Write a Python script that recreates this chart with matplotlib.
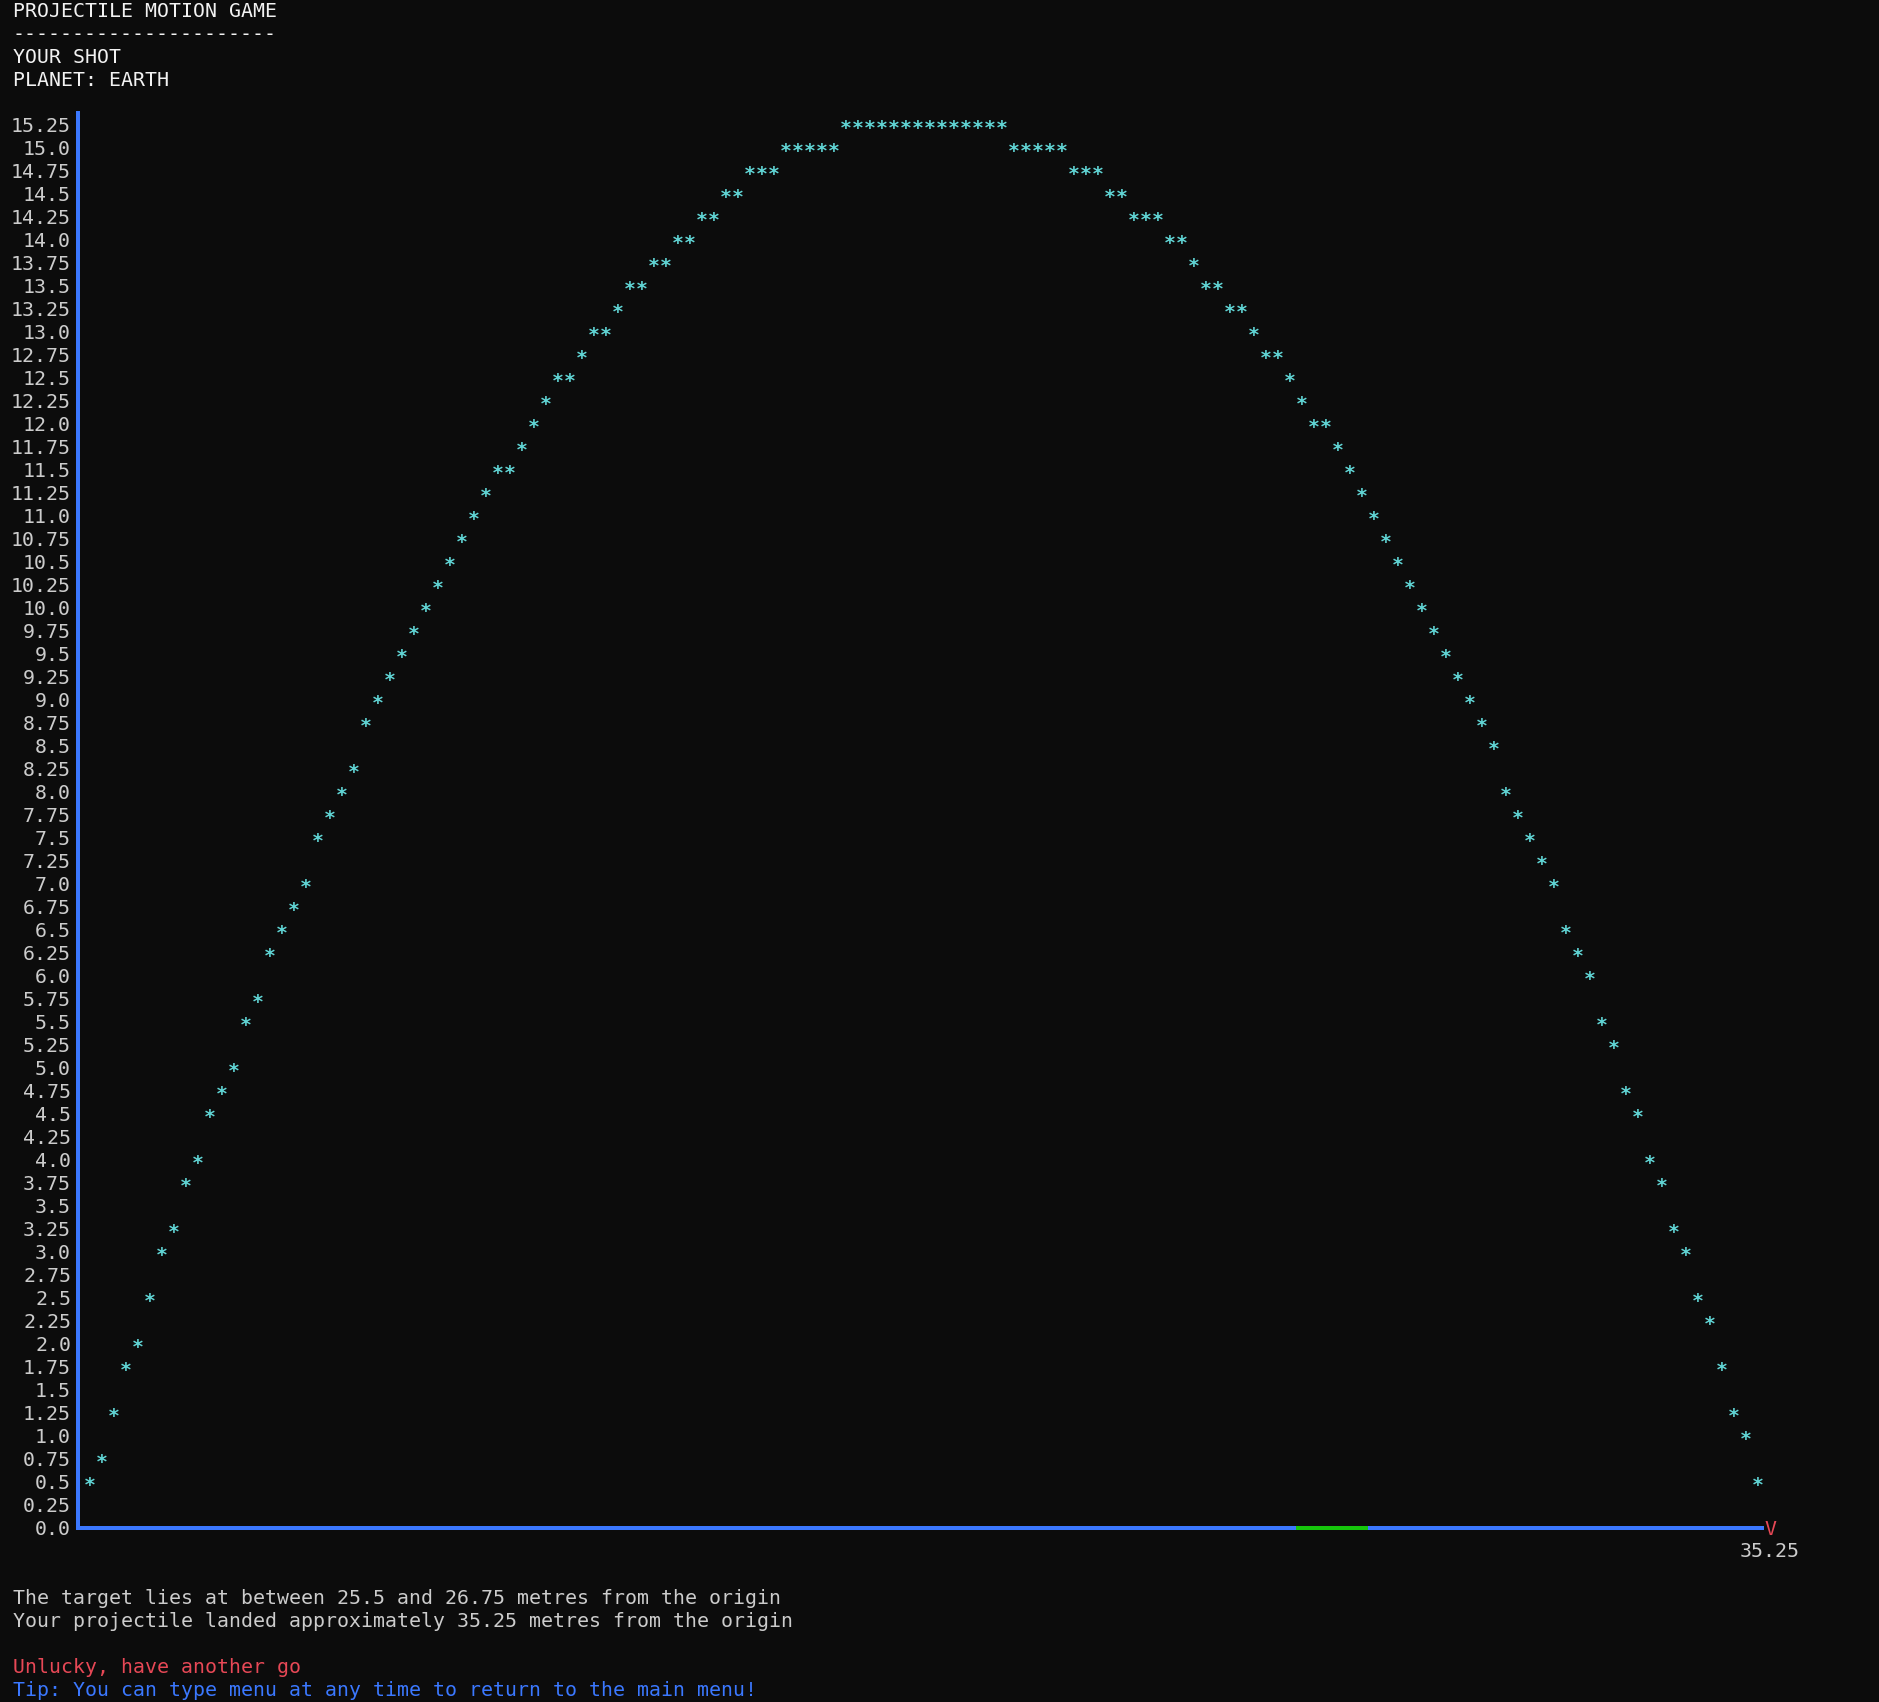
import matplotlib
matplotlib.use('Agg')
import matplotlib.pyplot as plt
from matplotlib.transforms import offset_copy

# Height of the projectile (m) at each 0.25 m column of the terminal plot
heights = [
    0.5, 0.75, 1.25, 1.75, 2.0, 2.5, 3.0, 3.25, 3.75, 4.0,
    4.5, 4.75, 5.0, 5.5, 5.75, 6.25, 6.5, 6.75, 7.0, 7.5,
    7.75, 8.0, 8.25, 8.75, 9.0, 9.25, 9.5, 9.75, 10.0, 10.25,
    10.5, 10.75, 11.0, 11.25, 11.5, 11.5, 11.75, 12.0, 12.25, 12.5,
    12.5, 12.75, 13.0, 13.0, 13.25, 13.5, 13.5, 13.75, 13.75, 14.0,
    14.0, 14.25, 14.25, 14.5, 14.5, 14.75, 14.75, 14.75, 15.0, 15.0,
    15.0, 15.0, 15.0, 15.25, 15.25, 15.25, 15.25, 15.25, 15.25, 15.25,
    15.25, 15.25, 15.25, 15.25, 15.25, 15.25, 15.25, 15.0, 15.0, 15.0,
    15.0, 15.0, 14.75, 14.75, 14.75, 14.5, 14.5, 14.25, 14.25, 14.25,
    14.0, 14.0, 13.75, 13.5, 13.5, 13.25, 13.25, 13.0, 12.75, 12.75,
    12.5, 12.25, 12.0, 12.0, 11.75, 11.5, 11.25, 11.0, 10.75, 10.5,
    10.25, 10.0, 9.75, 9.5, 9.25, 9.0, 8.75, 8.5, 8.0, 7.75,
    7.5, 7.25, 7.0, 6.5, 6.25, 6.0, 5.5, 5.25, 4.75, 4.5,
    4.0, 3.75, 3.25, 3.0, 2.5, 2.25, 1.75, 1.25, 1.0, 0.5,
]
# terminal columns are 0.25 m apart
distances = [0.25 * (i + 1) for i in range(len(heights))]

y_ticks = [0.25 * i for i in range(62)]
y_tick_labels = [str(v) for v in y_ticks]

landing = 35.25
target_start = 25.5
target_end = 26.75

header_lines = ['PROJECTILE MOTION GAME', '-' * 22, 'YOUR SHOT', 'PLANET: EARTH']
footer_lines = [
    (69, 'The target lies at between 25.5 and 26.75 metres from the origin', 'text'),
    (70, 'Your projectile landed approximately 35.25 metres from the origin', 'text'),
    (72, 'Unlucky, have another go', 'red'),
    (73, 'Tip: You can type menu at any time to return to the main menu!', 'blue'),
]

BG = '#0c0c0c'
COLORS = {'text': '#cccccc', 'head': '#f2f2f2', 'red': '#e74856',
          'blue': '#3b78ff', 'green': '#16c60c', 'star': '#61d6d6'}
FONT = 'DejaVu Sans Mono'
SIZE = 14.35  # gives a 12 px character cell at 100 dpi

W, H = 1879, 1702
ROW = 23  # px per terminal row


def row_baseline(k):
    # figure fraction of the text baseline for terminal row k
    return (H - (17 + ROW * k)) / H


def main():
    fig = plt.figure(figsize=(W / 100, H / 100), dpi=100, facecolor=BG)

    # x: 0.25 m per 12 px column, y: 0.25 m per 23 px row
    ax = fig.add_axes([78 / W, 174.5 / H, (1782 - 78) / W, (1589 - 174.5) / H])
    ax.set_facecolor(BG)
    ax.set_xlim(0, 35.5)
    ax.set_ylim(0, 15.375)

    for side in ['top', 'right', 'bottom']:
        ax.spines[side].set_visible(False)
    ax.spines['left'].set_color(COLORS['blue'])
    ax.spines['left'].set_linewidth(2.88)

    # ground line with the target zone in green
    ax.hlines(0, -2 / 48, landing - 0.125, color=COLORS['blue'], lw=2.88,
              clip_on=False, zorder=3)
    ax.hlines(0, target_start - 0.125, target_end + 0.125, color=COLORS['green'],
              lw=2.88, clip_on=False, zorder=4)

    ax.set_yticks(y_ticks, labels=y_tick_labels, fontfamily=FONT, fontsize=SIZE,
                  color=COLORS['text'])
    ax.tick_params(axis='y', length=0, pad=5)
    ax.set_xticks([landing], labels=['35.25'], fontfamily=FONT, fontsize=SIZE,
                  color=COLORS['text'])
    ax.tick_params(axis='x', length=0, pad=10.5)

    star_trans = offset_copy(ax.transData, fig=fig, y=-0.48 * SIZE, units='points')
    for x, y in zip(distances, heights):
        ax.text(x, y, '*', transform=star_trans, ha='center', va='baseline',
                fontfamily=FONT, fontsize=SIZE, fontweight='bold',
                color=COLORS['star'])

    cap_trans = offset_copy(ax.transData, fig=fig, y=-0.3645 * SIZE, units='points')
    ax.text(landing, 0, 'V', transform=cap_trans, ha='center', va='baseline',
            fontfamily=FONT, fontsize=SIZE, color=COLORS['red'], clip_on=False)

    for k, line in enumerate(header_lines):
        fig.text(13 / W, row_baseline(k), line, ha='left', va='baseline',
                 fontfamily=FONT, fontsize=SIZE, color=COLORS['head'])
    for k, line, col in footer_lines:
        fig.text(13 / W, row_baseline(k), line, ha='left', va='baseline',
                 fontfamily=FONT, fontsize=SIZE, color=COLORS[col])

    fig.savefig('out.png', dpi=100, facecolor=BG)


if __name__ == "__main__":
    main()
